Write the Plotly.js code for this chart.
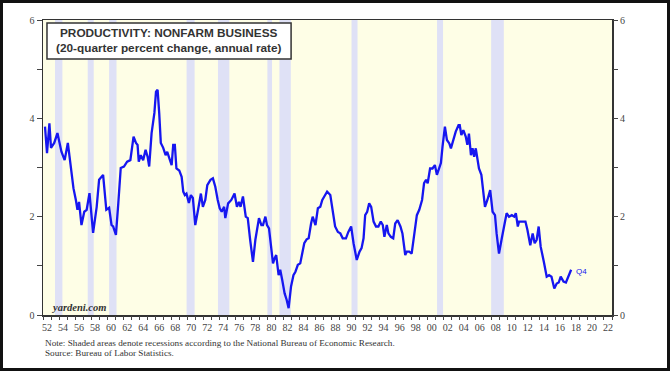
<!DOCTYPE html>
<html>
<head>
<meta charset="utf-8">
<script src="https://cdn.plot.ly/plotly-3.0.1.min.js"></script>
<style>
html,body{margin:0;padding:0;background:#fff;}
#wrap{position:relative;width:670px;height:371px;}
#chart{width:670px;height:371px;}
#frame{position:absolute;left:0;top:0;width:670px;height:371px;box-sizing:border-box;border:3px solid #111;pointer-events:none;}
</style>
</head>
<body>
<div id="wrap"><div id="chart"></div><div id="frame"></div></div>
<script>
// Productivity: nonfarm business, 20-quarter percent change, annual rate
const years = [
1952.25,1952.5,1952.8,1953.0,1953.4,1953.8,1954.3,1954.7,1955.1,1955.45,1955.8,1956.1,1956.3,1956.5,1956.8,
1957.15,1957.45,1957.8,1958.05,1958.25,1958.7,1959.0,1959.5,1959.9,1960.25,1960.55,1960.75,1961.1,1961.4,1961.7,
1962.1,1962.5,1962.9,1963.3,1963.6,1963.8,1963.95,1964.2,1964.5,1964.8,1965.05,1965.25,1965.55,1965.9,1966.1,
1966.3,1966.5,1966.7,1967.0,1967.3,1967.5,1967.75,1968.05,1968.25,1968.45,1968.65,1969.0,1969.3,1969.5,1969.7,
1969.9,1970.2,1970.45,1970.7,1971.0,1971.35,1971.7,1971.95,1972.25,1972.5,1972.9,1973.2,1973.5,1973.8,1974.05,
1974.3,1974.6,1974.75,1975.1,1975.5,1975.9,1976.2,1976.45,1976.65,1976.95,1977.3,1977.55,1977.85,1978.2,1978.5,
1978.95,1979.25,1979.45,1979.75,1979.95,1980.2,1980.5,1980.7,1980.9,1981.1,1981.4,1981.6,1981.85,1982.15,1982.4,
1982.65,1982.95,1983.25,1983.5,1983.8,1984.1,1984.35,1984.6,1984.9,1985.15,1985.45,1985.65,1986.0,1986.3,1986.6,
1986.85,1987.1,1987.45,1987.85,1988.15,1988.45,1988.8,1989.1,1989.4,1989.8,1990.1,1990.45,1990.75,1991.15,1991.5,
1991.75,1992.0,1992.2,1992.45,1992.7,1992.95,1993.25,1993.55,1993.85,1994.15,1994.4,1994.6,1994.9,1995.1,1995.4,
1995.7,1995.95,1996.25,1996.6,1996.85,1997.2,1997.4,1997.7,1998.0,1998.3,1998.65,1998.95,1999.3,1999.55,1999.8,
2000.0,2000.3,2000.6,2000.9,2001.15,2001.45,2001.65,2001.85,2002.15,2002.4,2002.7,2002.9,2003.2,2003.5,2003.85,
2004.0,2004.2,2004.45,2004.75,2004.95,2005.15,2005.4,2005.6,2005.8,2006.0,2006.2,2006.4,2006.7,2006.9,2007.15,
2007.45,2007.8,2008.1,2008.4,2008.6,2008.9,2009.25,2009.55,2009.85,2010.15,2010.5,2010.8,2011.0,2011.25,2011.4,
2011.6,2012.2,2012.45,2012.8,2013.1,2013.35,2013.6,2013.85,2014.1,2014.3,2014.5,2014.85,2015.15,2015.45,2015.8,
2016.1,2016.35,2016.6,2016.95,2017.25,2017.55,2017.9
];
const productivity = [
3.83,3.29,3.90,3.40,3.50,3.70,3.32,3.15,3.50,3.09,2.58,2.34,2.14,2.30,1.83,
2.10,2.14,2.48,2.07,1.67,2.20,2.75,2.85,2.14,2.18,1.83,1.80,1.63,2.28,2.99,
3.02,3.12,3.15,3.63,3.50,3.46,3.12,3.25,3.15,3.36,3.22,3.02,3.70,4.11,4.54,
4.58,4.11,3.50,3.40,3.25,3.32,3.19,3.05,3.46,3.46,2.98,2.94,2.81,2.51,2.44,
2.47,2.28,2.44,2.38,1.83,2.14,2.47,2.20,2.34,2.64,2.75,2.78,2.61,2.34,2.17,
2.10,2.20,1.97,2.27,2.34,2.47,2.20,2.30,2.20,2.41,2.00,1.97,1.53,1.08,1.53,
1.97,1.83,1.83,2.00,1.83,1.76,1.25,1.05,1.15,1.22,0.81,0.92,0.71,0.44,0.31,
0.14,0.58,0.81,0.88,1.02,1.05,1.25,1.46,1.54,1.56,1.86,2.00,1.83,2.17,2.20,
2.34,2.41,2.51,2.44,2.14,1.80,1.69,1.66,1.56,1.56,1.69,1.80,1.46,1.12,1.29,
1.36,1.56,2.03,2.10,2.27,2.20,1.90,1.80,1.80,1.90,1.83,1.59,1.83,1.66,1.59,
1.56,1.86,1.93,1.80,1.66,1.22,1.29,1.29,1.25,1.66,2.03,2.14,2.34,2.68,2.75,
2.68,2.98,2.98,3.05,2.85,2.98,3.09,3.42,3.83,3.56,3.49,3.39,3.56,3.73,3.86,
3.86,3.66,3.76,3.63,3.46,3.69,3.25,3.39,3.22,3.39,3.19,2.98,2.85,2.61,2.20,
2.34,2.54,2.10,2.03,1.66,1.25,1.56,1.83,2.07,2.00,2.03,2.00,2.07,1.80,1.90,
1.90,1.90,1.73,1.42,1.66,1.46,1.53,1.80,1.39,1.19,1.08,0.78,0.81,0.78,0.54,
0.64,0.66,0.78,0.68,0.66,0.78,0.92
];
// NBER recessions (peak, trough) as decimal years
const recessionStart = [1953.5,1957.58,1960.25,1969.92,1973.83,1980.0,1981.5,1990.5,2001.17,2007.92];
const recessionEnd   = [1954.42,1958.33,1961.17,1970.92,1975.25,1980.58,1982.92,1991.25,2001.92,2009.5];
// tick labels
const xLabelYears = [];
const xLabelText = [];
for (let y = 1952; y <= 2022; y += 2) { xLabelYears.push(y + 0.5); xLabelText.push(String(y % 100).padStart(2,'0')); }
const yTickVals = [0,1,2,3,4,5,6];
const yTickText = ['0','','2','','4','','6'];

const lastX = years[years.length-1];
const lastY = productivity[productivity.length-1];

const shapes = recessionStart.map((s,i)=>({
  type:'rect', xref:'x', yref:'paper', x0:s, x1:recessionEnd[i], y0:0, y1:1,
  fillcolor:'#dfe1f6', line:{width:0}, layer:'below'
}));
// title box
shapes.push({type:'rect', xref:'paper', yref:'paper', x0:0.007, x1:0.436, y0:0.868, y1:0.990,
  fillcolor:'#ffffff', line:{color:'#333', width:1.5}, layer:'above'});

const tickFont = {family:'Liberation Serif, Times New Roman, serif', size:10, color:'#444'};
const noteFont = {family:'Liberation Serif, Times New Roman, serif', size:9.2, color:'#333'};
const titleFont = {family:'Liberation Sans, Arial, sans-serif', size:11.8, color:'#333'};

const data = [
  {x:years, y:productivity, type:'scatter', mode:'lines', line:{color:'#1616f0', width:2.3}, hoverinfo:'x+y', showlegend:false},
  {x:[], y:[], xaxis:'x2', yaxis:'y', type:'scatter', showlegend:false},
  {x:[], y:[], xaxis:'x', yaxis:'y2', type:'scatter', showlegend:false}
];

const layout = {
  width:670, height:371,
  margin:{l:43, r:58, t:20, b:56, pad:0},
  paper_bgcolor:'#ffffff',
  plot_bgcolor:'#fefee6',
  showlegend:false,
  xaxis:{range:[1952,2023], tickmode:'array', tickvals:xLabelYears, ticktext:xLabelText,
    ticks:'', showgrid:false, zeroline:false, showline:true, mirror:true, linecolor:'#333', linewidth:1.5,
    tickfont:tickFont, ticklabelstandoff:2, fixedrange:true},
  xaxis2:{range:[1952,2023], overlaying:'x', anchor:'y', side:'bottom', tickmode:'linear', tick0:1952, dtick:1,
    ticks:'outside', ticklen:4, tickwidth:1, tickcolor:'#444', showticklabels:false, showgrid:false, zeroline:false, showline:false},
  yaxis:{range:[0,6], tickmode:'array', tickvals:yTickVals, ticktext:yTickText, ticks:'outside', ticklen:5,
    tickwidth:1, tickcolor:'#444', showgrid:false, zeroline:false, showline:true, mirror:true, linecolor:'#333',
    linewidth:1.5, tickfont:tickFont},
  yaxis2:{range:[0,6], overlaying:'y', side:'right', anchor:'x', tickmode:'array', tickvals:yTickVals, ticktext:yTickText,
    ticks:'outside', ticklen:5, tickwidth:1, tickcolor:'#444', showgrid:false, zeroline:false, showline:false, tickfont:tickFont},
  shapes:shapes,
  annotations:[
    {xref:'paper', yref:'paper', x:0.2215, y:0.955, xanchor:'center', yanchor:'middle', showarrow:false,
     text:'<b>PRODUCTIVITY: NONFARM BUSINESS</b>', font:titleFont},
    {xref:'paper', yref:'paper', x:0.2215, y:0.906, xanchor:'center', yanchor:'middle', showarrow:false,
     text:'<b>(20-quarter percent change, annual rate)</b>', font:titleFont},
    {xref:'paper', yref:'paper', x:0.011, y:0.024, xanchor:'left', yanchor:'middle', showarrow:false,
     text:'<b><i>yardeni.com</i></b>', font:{family:'Liberation Serif, Times New Roman, serif', size:10.5, color:'#333'}},
    {xref:'x', yref:'y', x:lastX+0.4, y:lastY-0.03, xanchor:'left', yanchor:'middle', showarrow:false,
     text:'Q4', font:{family:'Liberation Sans, Arial, sans-serif', size:8, color:'#1616f0'}},
    {xref:'paper', yref:'paper', x:0.0, y:-0.0966, xanchor:'left', yanchor:'middle', showarrow:false, align:'left',
     text:'Note: Shaded areas denote recessions according to the National Bureau of Economic Research.',
     font:noteFont},
    {xref:'paper', yref:'paper', x:0.0, y:-0.1305, xanchor:'left', yanchor:'middle', showarrow:false, align:'left',
     text:'Source: Bureau of Labor Statistics.',
     font:noteFont}
  ]
};

Plotly.newPlot('chart', data, layout, {displayModeBar:false, staticPlot:true});
</script>
</body>
</html>
